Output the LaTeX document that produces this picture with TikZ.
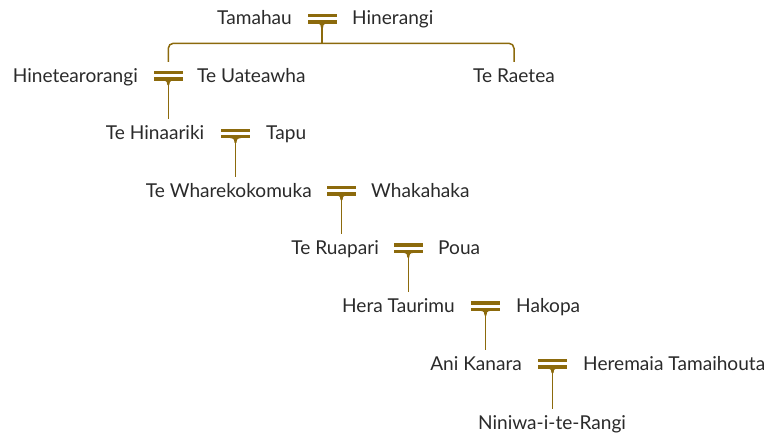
\documentclass[tikz,border=0pt]{standalone}
\usepackage{fontspec}
\setmainfont{Lato}
\definecolor{gold}{RGB}{140,106,12}
\definecolor{txt}{RGB}{42,42,42}
\tikzset{
  person/.style={font=\fontsize{19.1}{21}\selectfont, text=txt, inner xsep=0pt, inner ysep=6pt, text height=14pt, text depth=4pt},
  conn/.style={draw=gold, line width=1.5pt},
  couple/.pic={
    \fill[gold] (-14.5,-11) rectangle (14.5,-7.8);
    \fill[gold] (-14.5,-4.6) rectangle (14.5,-1.2);
    \fill[gold] (-5.5,-1.5) .. controls (-1.2,-1.2) and (-0.9,0.5) .. (-0.9,3.2) -- (0.9,3.2) .. controls (0.9,0.5) and (1.2,-1.2) .. (5.5,-1.5) -- cycle;
  }
}
\begin{document}
\begin{tikzpicture}[x=1pt,y=-1pt]
\useasboundingbox (0,0) rectangle (770,436);
% couple centres (x, baseline)
\coordinate (m1) at (322,25);
\coordinate (m2) at (168.3,82);
\coordinate (m3) at (235.5,139.6);
\coordinate (m4) at (341.5,197);
\coordinate (m5) at (408.3,254.3);
\coordinate (m6) at (485.5,312.3);
\coordinate (m7) at (552.5,370);
\coordinate (h) at (322,43.3);
% people
\node[person, anchor=base east] (p1a) at (292,25) {Tamahau};
\node[person, anchor=base west] (p1b) at (352,25) {Hinerangi};
\node[person, anchor=base east] (p2a) at (138,82) {Hinetearorangi};
\node[person, anchor=base west] (p2b) at (197,82) {Te Uateawha};
\node[person, anchor=base] (p2c) at (514,82) {Te Raetea};
\node[person, anchor=base east] (p3a) at (204.5,139.6) {Te Hinaariki};
\node[person, anchor=base west] (p3b) at (266,139.6) {Tapu};
\node[person, anchor=base east] (p4a) at (312,197) {Te Wharekokomuka};
\node[person, anchor=base west] (p4b) at (371,197) {Whakahaka};
\node[person, anchor=base east] (p5a) at (379,254.3) {Te Ruapari};
\node[person, anchor=base west] (p5b) at (438,254.3) {Poua};
\node[person, anchor=base east] (p6a) at (455,312.3) {Hera Taurimu};
\node[person, anchor=base west] (p6b) at (516,312.3) {Hakopa};
\node[person, anchor=base east] (p7a) at (522,370) {Ani Kanara};
\node[person, anchor=base west] (p7b) at (583,370) {Heremaia Tamaihouta};
\node[person, anchor=base] (p8) at (552,429.3) {Niniwa-i-te-Rangi};
% connectors
\draw[conn] (m1) -- (h);
\draw[conn, rounded corners=5pt] (m2 |- p2a.north) |- (h) -| (p2c.north);
\draw[conn] (m2) -- (m2 |- p3a.north);
\draw[conn] (m3) -- (m3 |- p4a.north);
\draw[conn] (m4) -- (m4 |- p5a.north);
\draw[conn] (m5) -- (m5 |- p6a.north);
\draw[conn] (m6) -- (m6 |- p7a.north);
\draw[conn] (m7) -- (m7 |- p8.north);
% couple symbols
\foreach \m in {m1,m2,m3,m4,m5,m6,m7} \pic at (\m) {couple};
\end{tikzpicture}
\end{document}
